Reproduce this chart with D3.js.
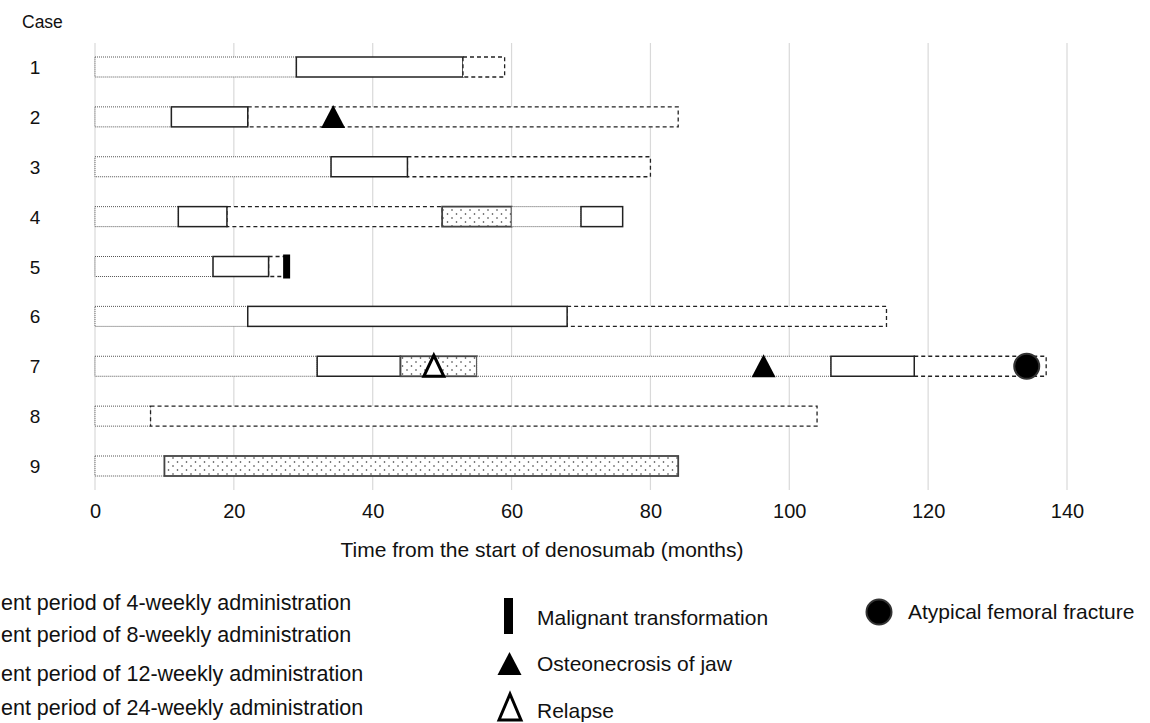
<!DOCTYPE html>
<html>
<head>
<meta charset="utf-8">
<script src="https://cdn.jsdelivr.net/npm/d3@7"></script>
<style>
  body { margin: 0; background: #fff; }
  svg { display: block; font-family: 'Liberation Sans', Arial, Helvetica, sans-serif; }
</style>
</head>
<body>
<svg id="chart" width="1150" height="723"></svg>
<script>
const caseLabels = ['1', '2', '3', '4', '5', '6', '7', '8', '9'];
const schedules = ['4-weekly', '8-weekly', '12-weekly', '24-weekly'];
const xTicks = [0, 20, 40, 60, 80, 100, 120, 140];

// treatment periods (months from start of denosumab)
const periods = [
  { c: '1', s: '4-weekly', from: 0, to: 29 },
  { c: '1', s: '8-weekly', from: 29, to: 53 },
  { c: '1', s: '12-weekly', from: 53, to: 59 },
  { c: '2', s: '4-weekly', from: 0, to: 11 },
  { c: '2', s: '12-weekly', from: 22, to: 84 },
  { c: '2', s: '8-weekly', from: 11, to: 22 },
  { c: '3', s: '4-weekly', from: 0, to: 34 },
  { c: '3', s: '12-weekly', from: 45, to: 80 },
  { c: '3', s: '8-weekly', from: 34, to: 45 },
  { c: '4', s: '4-weekly', from: 0, to: 12 },
  { c: '4', s: '12-weekly', from: 19, to: 50 },
  { c: '4', s: '8-weekly', from: 12, to: 19 },
  { c: '4', s: '24-weekly', from: 50, to: 60 },
  { c: '4', s: '4-weekly', from: 60, to: 70 },
  { c: '4', s: '8-weekly', from: 70, to: 76 },
  { c: '5', s: '4-weekly', from: 0, to: 17 },
  { c: '5', s: '12-weekly', from: 25, to: 27.5 },
  { c: '5', s: '8-weekly', from: 17, to: 25 },
  { c: '6', s: '4-weekly', from: 0, to: 22 },
  { c: '6', s: '12-weekly', from: 68, to: 114 },
  { c: '6', s: '8-weekly', from: 22, to: 68 },
  { c: '7', s: '4-weekly', from: 0, to: 32 },
  { c: '7', s: '8-weekly', from: 32, to: 44 },
  { c: '7', s: '24-weekly', from: 44, to: 55 },
  { c: '7', s: '4-weekly', from: 55, to: 106 },
  { c: '7', s: '12-weekly', from: 118, to: 137 },
  { c: '7', s: '8-weekly', from: 106, to: 118 },
  { c: '8', s: '4-weekly', from: 0, to: 8 },
  { c: '8', s: '12-weekly', from: 8, to: 104 },
  { c: '9', s: '4-weekly', from: 0, to: 10 },
  { c: '9', s: '24-weekly', from: 10, to: 84 }
];

// clinical events
const events = [
  { c: '2', type: 'onj', t: 34.3 },
  { c: '5', type: 'malignant', t: 27.6 },
  { c: '7', type: 'relapse', t: 48.8 },
  { c: '7', type: 'onj', t: 96.3 },
  { c: '7', type: 'aff', t: 134.2 }
];

const eventLabels = [
  { type: 'malignant', label: 'Malignant transformation' },
  { type: 'onj', label: 'Osteonecrosis of jaw' },
  { type: 'relapse', label: 'Relapse' },
  { type: 'aff', label: 'Atypical femoral fracture' }
];

const svg = d3.select('#chart');

const x = d3.scaleLinear().domain([0, 140]).range([95, 1067]);
const y = d3.scalePoint().domain(caseLabels).range([67, 466]);
const barH = 20;

// dot fill for 24-weekly
const defs = svg.append('defs');
const pat = defs.append('pattern')
  .attr('id', 'dots')
  .attr('patternUnits', 'userSpaceOnUse')
  .attr('width', 9).attr('height', 8);
pat.append('rect').attr('width', 9).attr('height', 8).attr('fill', '#fff');
pat.append('circle').attr('cx', 2).attr('cy', 2).attr('r', 0.8).attr('fill', '#333');
pat.append('circle').attr('cx', 6.5).attr('cy', 6).attr('r', 0.8).attr('fill', '#333');

const style = {
  '4-weekly': { stroke: '#555', width: 1, dash: '1,1', fill: '#fff' },
  '8-weekly': { stroke: '#222', width: 1.5, dash: null, fill: '#fff' },
  '12-weekly': { stroke: '#222', width: 1.3, dash: '4,3', fill: '#fff' },
  '24-weekly': { stroke: '#444', width: 1.8, dash: null, fill: 'url(#dots)' }
};

// grid
svg.append('g')
  .selectAll('line')
  .data(xTicks)
  .join('line')
  .attr('x1', d => x(d)).attr('x2', d => x(d))
  .attr('y1', 43).attr('y2', 490)
  .attr('stroke', '#d9d9d9')
  .attr('stroke-width', 1.2);

// x axis labels
const xAxis = svg.append('g')
  .attr('transform', 'translate(0,518)')
  .call(d3.axisBottom(x).tickValues(xTicks).tickSize(0).tickPadding(0));
xAxis.select('.domain').remove();
xAxis.selectAll('text')
  .attr('y', 0)
  .attr('dy', 0)
  .style('font-size', '20px')
  .style('font-family', "'Liberation Sans', Arial, sans-serif")
  .attr('fill', '#111');

svg.append('text')
  .attr('x', 542).attr('y', 557)
  .attr('text-anchor', 'middle')
  .style('font-size', '21px')
  .attr('fill', '#111')
  .text('Time from the start of denosumab (months)');

// y labels
svg.append('text')
  .attr('x', 22).attr('y', 28)
  .style('font-size', '17.5px')
  .attr('fill', '#111')
  .text('Case');

svg.append('g')
  .selectAll('text')
  .data(caseLabels)
  .join('text')
  .attr('x', 35).attr('y', d => y(d) + 7)
  .attr('text-anchor', 'middle')
  .style('font-size', '19px')
  .attr('fill', '#111')
  .text(d => d);

// bars
svg.append('g')
  .selectAll('rect')
  .data(periods)
  .join('rect')
  .attr('x', d => x(d.from))
  .attr('y', d => y(d.c) - barH / 2)
  .attr('width', d => x(d.to) - x(d.from))
  .attr('height', barH)
  .attr('fill', d => style[d.s].fill)
  .attr('stroke', d => style[d.s].stroke)
  .attr('stroke-width', d => style[d.s].width)
  .attr('stroke-dasharray', d => style[d.s].dash);

// event markers
function drawMarker(g, type, cx, cy) {
  if (type === 'onj') {
    g.append('path')
      .attr('d', `M${cx},${cy - 12}L${cx + 12},${cy + 11}L${cx - 12},${cy + 11}Z`)
      .attr('fill', '#000');
  } else if (type === 'relapse') {
    g.append('path')
      .attr('d', `M${cx},${cy - 11}L${cx + 10},${cy + 10}L${cx - 10},${cy + 10}Z`)
      .attr('fill', '#fff')
      .attr('stroke', '#000')
      .attr('stroke-width', 3)
      .attr('stroke-linejoin', 'miter');
  } else if (type === 'malignant') {
    g.append('rect')
      .attr('x', cx - 3.5).attr('y', cy - 12)
      .attr('width', 7).attr('height', 24)
      .attr('fill', '#000');
  } else if (type === 'aff') {
    g.append('circle')
      .attr('cx', cx).attr('cy', cy)
      .attr('r', 12.5)
      .attr('fill', '#000')
      .attr('stroke', '#333')
      .attr('stroke-width', 2);
  }
}

const markers = svg.append('g');
events.forEach(e => drawMarker(markers, e.type, x(e.t), y(e.c)));

// legend: treatment schedules (partly off the left edge, as in the figure)
const legL = svg.append('g');
const legLy = [610, 642, 681, 715];
const legFont = '21.5px';
schedules.forEach((s, i) => {
  legL.append('rect')
    .attr('x', -110).attr('y', legLy[i] - 16)
    .attr('width', 40).attr('height', 18)
    .attr('fill', style[s].fill)
    .attr('stroke', style[s].stroke)
    .attr('stroke-width', style[s].width)
    .attr('stroke-dasharray', style[s].dash);
  legL.append('text')
    .attr('class', 'legL')
    .attr('y', legLy[i])
    .style('font-size', legFont)
    .attr('fill', '#111')
    .text(`Treatment period of ${s} administration`);
});
// shift so that only "ent period ..." stays inside the page
const probe = legL.append('text').style('font-size', legFont).text('Treatm');
const cut = probe.node().getComputedTextLength();
probe.remove();
legL.selectAll('.legL').attr('x', 1 - cut);

// legend: events
const legE = svg.append('g');
const legEpos = [
  { mx: 508.5, my: 616, tx: 537, ty: 625 },
  { mx: 509.5, my: 664, tx: 537, ty: 671 },
  { mx: 510, my: 707, tx: 537, ty: 718 },
  { mx: 879, my: 612, tx: 908, ty: 619 }
];
eventLabels.forEach((d, i) => {
  const p = legEpos[i];
  if (d.type === 'malignant') {
    legE.append('rect')
      .attr('x', p.mx - 4.5).attr('y', p.my - 18)
      .attr('width', 9).attr('height', 36)
      .attr('fill', '#000');
  } else if (d.type === 'relapse') {
    legE.append('path')
      .attr('d', `M${p.mx},${p.my - 13}L${p.mx + 11},${p.my + 13}L${p.mx - 11},${p.my + 13}Z`)
      .attr('fill', '#fff')
      .attr('stroke', '#000')
      .attr('stroke-width', 3);
  } else {
    drawMarker(legE, d.type, p.mx, p.my);
  }
  legE.append('text')
    .attr('x', p.tx).attr('y', p.ty)
    .style('font-size', '21px')
    .attr('fill', '#111')
    .text(d.label);
});
</script>
</body>
</html>
